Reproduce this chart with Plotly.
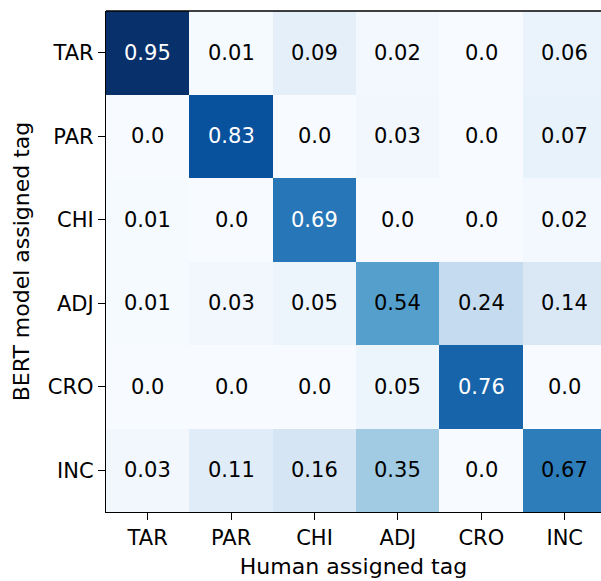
import plotly.graph_objects as go

tags = ["TAR", "PAR", "CHI", "ADJ", "CRO", "INC"]
row_TAR = [0.95, 0.01, 0.09, 0.02, 0.0, 0.06]
row_PAR = [0.0, 0.83, 0.0, 0.03, 0.0, 0.07]
row_CHI = [0.01, 0.0, 0.69, 0.0, 0.0, 0.02]
row_ADJ = [0.01, 0.03, 0.05, 0.54, 0.24, 0.14]
row_CRO = [0.0, 0.0, 0.0, 0.05, 0.76, 0.0]
row_INC = [0.03, 0.11, 0.16, 0.35, 0.0, 0.67]
z = [row_TAR, row_PAR, row_CHI, row_ADJ, row_CRO, row_INC]

blues = ["#f7fbff", "#deebf7", "#c6dbef", "#9ecae1", "#6baed6",
         "#4292c6", "#2171b5", "#08519c", "#08306b"]
colorscale = [[i / 8, c] for i, c in enumerate(blues)]

fig = go.Figure(go.Heatmap(
    z=z, x=list(range(len(tags))), y=list(range(len(tags))),
    colorscale=colorscale, zmin=0, zmax=0.95,
    showscale=False, xgap=0, ygap=0, hoverinfo="skip"))

font = "DejaVu Sans"
annotations = []
for i in range(len(tags)):
    for j in range(len(tags)):
        v = z[i][j]
        annotations.append(dict(
            x=j, y=i, text=str(v), showarrow=False,
            font=dict(family=font, size=21,
                      color="white" if v > 0.68 else "black")))

fig.update_layout(
    width=601, height=581,
    margin=dict(l=106, r=0, t=11, b=69),
    paper_bgcolor="white", plot_bgcolor="white",
    annotations=annotations,
    font=dict(family=font, size=21, color="black"),
    shapes=[dict(type="line", xref="paper", yref="paper",
                 x0=0, x1=1, y0=1, y1=1,
                 line=dict(color="black", width=1.3))],
)
fig.update_xaxes(
    tickmode="array", tickvals=list(range(len(tags))), ticktext=tags,
    range=[-0.5, 5.435],
    title=dict(text="Human assigned tag", font=dict(size=22), standoff=9),
    ticks="outside", ticklen=7, tickcolor="black", tickwidth=1.3,
    showline=True, linecolor="black", linewidth=1.3,
    showgrid=False, zeroline=False, tickfont=dict(size=21))
fig.update_yaxes(
    tickmode="array", tickvals=list(range(len(tags))), ticktext=tags,
    range=[5.5, -0.5],
    title=dict(text="BERT model assigned tag", font=dict(size=22), standoff=12),
    ticks="outside", ticklen=7, tickcolor="black", tickwidth=1.3,
    showline=True, linecolor="black", linewidth=1.3,
    showgrid=False, zeroline=False, tickfont=dict(size=21))

fig.write_html("out.html", config={"displayModeBar": False},
               post_script="document.body.style.margin='0';document.body.style.overflow='hidden';")
